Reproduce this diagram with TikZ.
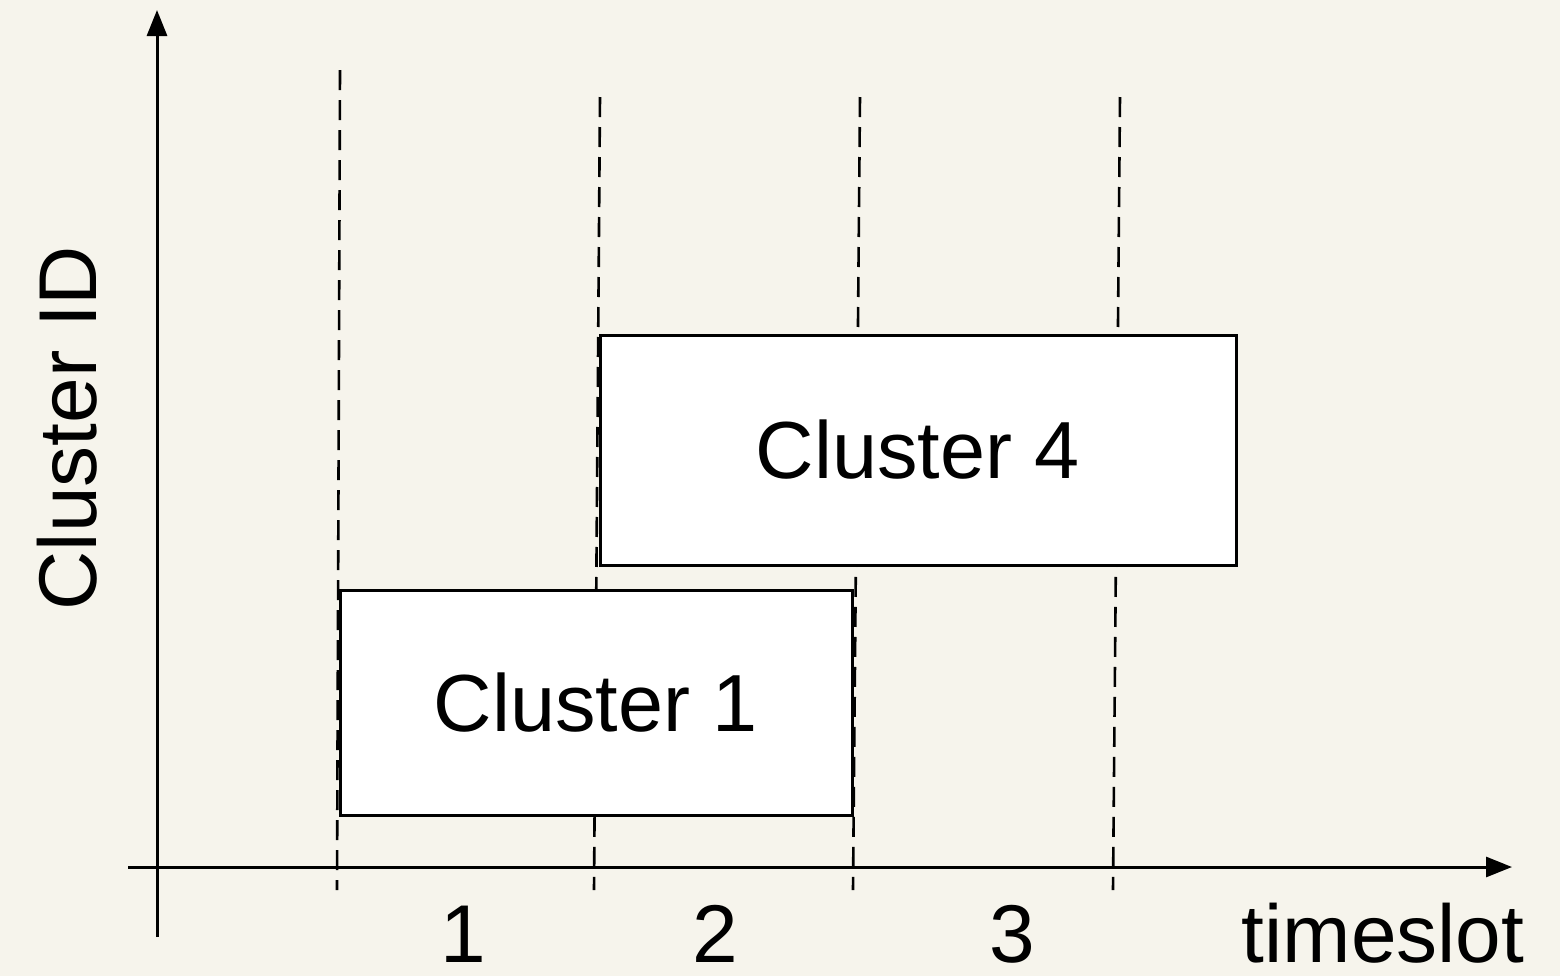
\documentclass[tikz,border=0pt]{standalone}
\usepackage{fontspec}
\setmainfont{Liberation Sans}
\usetikzlibrary{arrows.meta}
\definecolor{paper}{HTML}{F6F4EC}
\begin{document}
\begin{tikzpicture}[x=0.5pt,y=-0.5pt,
  axis/.style={line width=1.5pt,-{Triangle[length=13pt,width=10pt]}},
  slotline/.style={line width=1.3pt,dash pattern=on 10pt off 5pt},
  cluster/.style={draw,fill=white,line width=1.5pt,inner sep=0pt,outer sep=0pt,
    font=\fontsize{40.5}{48}\selectfont},
  lbl/.style={anchor=base,inner sep=0pt,font=\fontsize{41}{48}\selectfont}]
  % page and background
  \fill[paper] (0,0) rectangle (1560,976);
  \useasboundingbox (0,0) rectangle (1560,976);
  % axes
  \coordinate (yb) at (157,937);
  \coordinate (yt) at (157,10);
  \coordinate (xl) at (128,867);
  \coordinate (xr) at (1512,867);
  \draw[axis] (yb) -- (yt);
  \draw[axis] (xl) -- (xr);
  % slot boundaries
  \coordinate (s1t) at (340,70);   \coordinate (s1b) at (337,890);
  \coordinate (s2t) at (600,97);   \coordinate (s2b) at (594,890);
  \coordinate (s3t) at (860,97);   \coordinate (s3b) at (853,890);
  \coordinate (s4t) at (1120,97);  \coordinate (s4b) at (1113,890);
  \draw[slotline] (s1t) -- (s1b);
  \draw[slotline] (s2t) -- (s2b);
  \draw[slotline] (s3t) -- (s3b);
  \draw[slotline] (s4t) -- (s4b);
  % clusters
  \node[cluster,minimum width=256pt,minimum height=112.5pt] (c1) at (596,702.5) {Cluster 1};
  \node[cluster,minimum width=318pt,minimum height=115pt] (c4) at (918,450) {Cluster 4};
  % labels
  \node[lbl] (l1) at (463,962) {1};
  \node[lbl] (l2) at (715,962) {2};
  \node[lbl] (l3) at (1012,962) {3};
  \node[lbl] (lt) at (1383,962) {timeslot};
  \node[lbl,rotate=90] (ly) at (97,428) {Cluster ID};
\end{tikzpicture}
\end{document}
